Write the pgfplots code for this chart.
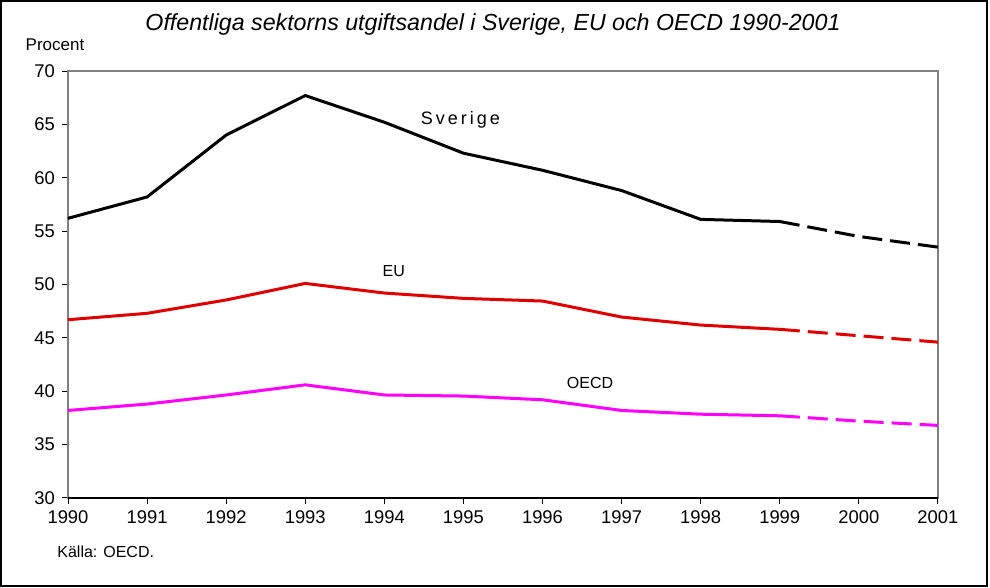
\documentclass[border=0pt]{standalone}
\usepackage{pgfplots}
\pgfplotsset{compat=1.18}
\usepackage{fontspec}
\setmainfont{Liberation Sans}
\definecolor{axgray}{RGB}{128,128,128}
\definecolor{eured}{RGB}{224,0,0}
\definecolor{oecdmag}{RGB}{255,0,255}
\begin{document}
\begin{tikzpicture}[x=0.5pt,y=0.5pt]
\useasboundingbox (-68,-90) rectangle (922,498);
\draw[black,line width=0.6pt] (-67,-88) rectangle (919,497);
\node[font=\fontsize{11.6}{13}\selectfont\itshape] at (425,473) {Offentliga sektorns utgiftsandel i Sverige, EU och OECD 1990-2001};
\node[font=\fontsize{8.5}{10}\selectfont] at (-13,453) {Procent};
\node[font=\fontsize{8}{10}\selectfont,anchor=west,inner sep=0pt] at (-11,-54) {Källa: OECD.};
\begin{axis}[
  at={(0,0)}, anchor=south west,
  scale only axis, width=435pt, height=213.5pt,
  xmin=1990, xmax=2001, ymin=30, ymax=70,
  xtick={1990,...,2001}, ytick={30,35,...,70},
  xtick pos=bottom, ytick pos=left,
  tick align=outside, major tick length=3pt,
  tick style={black,line width=0.5pt},
  axis line style={axgray,line width=1pt},
  /pgf/number format/assume math mode=true,
  /pgf/number format/1000 sep={},
  tick label style={font=\fontsize{9.2}{11}\selectfont},
  clip=false,
]
\addplot[black,line width=1.5pt] coordinates {
 (1990,56.2) (1991,58.2) (1992,64.0) (1993,67.7) (1994,65.2) (1995,62.3)
 (1996,60.7) (1997,58.8) (1998,56.1) (1999,55.9)};
\addplot[black,line width=1.5pt,dash pattern=on 10pt off 4pt] coordinates {
 (1999,55.9) (2000,54.5) (2001,53.5)};
\addplot[eured,line width=1.5pt] coordinates {
 (1990,46.7) (1991,47.3) (1992,48.55) (1993,50.1) (1994,49.2) (1995,48.7)
 (1996,48.45) (1997,46.95) (1998,46.2) (1999,45.8)};
\addplot[eured,line width=1.5pt,dash pattern=on 10pt off 4pt] coordinates {
 (1999,45.8) (2000,45.2) (2001,44.6)};
\addplot[oecdmag,line width=1.5pt] coordinates {
 (1990,38.2) (1991,38.8) (1992,39.65) (1993,40.6) (1994,39.65) (1995,39.55)
 (1996,39.2) (1997,38.2) (1998,37.85) (1999,37.7)};
\addplot[oecdmag,line width=1.5pt,dash pattern=on 10pt off 4pt] coordinates {
 (1999,37.7) (2000,37.2) (2001,36.8)};
\draw[black,line width=1pt] (rel axis cs:0,0) -- (rel axis cs:1,0);
\node[font=\fontsize{9}{11}\selectfont] at (axis cs:1994.96,65.4) {S\,v\,e\,r\,i\,g\,e};
\node[font=\fontsize{8}{10}\selectfont] at (axis cs:1994.12,51.3) {EU};
\node[font=\fontsize{8}{10}\selectfont] at (axis cs:1996.6,40.8) {OECD};
\end{axis}
\end{tikzpicture}
\end{document}
